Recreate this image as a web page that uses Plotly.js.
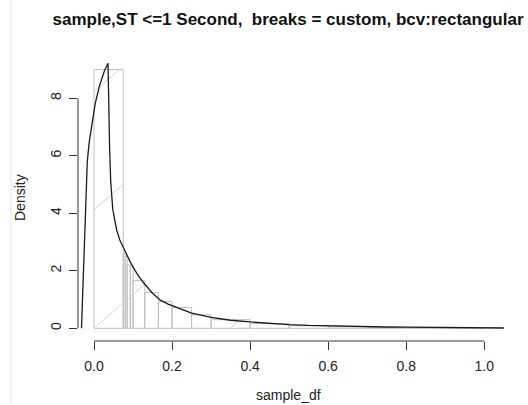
<!DOCTYPE html>
<html><head><meta charset="utf-8">
<script src="https://cdn.plot.ly/plotly-3.0.1.min.js"></script>
<style>html,body{margin:0;padding:0;background:#fff;} #chart{width:528px;height:405px;}</style>
</head><body><div id="chart"></div>
<script>
// ---- data ----
const breaks = [0, 0.075, 0.08, 0.085, 0.093, 0.1, 0.13, 0.165, 0.2, 0.25, 0.3, 0.4, 0.5, 0.6, 0.7, 0.8, 0.9, 1.0];
const densities = [9.0, 2.6, 2.5, 2.2, 2.2, 1.66, 1.25, 0.93, 0.72, 0.47, 0.30, 0.16, 0.09, 0.05, 0.03, 0.02, 0.015];
const curveX = [-0.032, -0.0295, -0.0274, -0.025, -0.0231, -0.020, -0.0172, -0.012, -0.0064, 0.0033, 0.0146, 0.0274, 0.0359,
  0.0367, 0.0377, 0.040, 0.0428, 0.0444, 0.048, 0.053, 0.058, 0.066, 0.075, 0.085, 0.095, 0.11, 0.126, 0.15, 0.17, 0.19, 0.21,
  0.25, 0.3, 0.35, 0.4, 0.45, 0.5, 0.55, 0.6, 0.65, 0.7, 0.75, 0.8, 0.85, 0.9, 0.95, 1.0, 1.05];
const curveY = [0, 1.0, 1.9, 3.0, 4.1, 5.0, 5.8, 6.5, 7.0, 7.83, 8.46, 8.98, 9.22,
  8.3, 7.7, 6.3, 5.1, 4.7, 4.15, 3.77, 3.42, 3.07, 2.8, 2.5, 2.25, 1.9, 1.6, 1.22, 0.98, 0.84, 0.73,
  0.53, 0.38, 0.28, 0.22, 0.17, 0.13, 0.10, 0.08, 0.065, 0.055, 0.045, 0.038, 0.032, 0.027, 0.02, 0.015, 0.01];
const xTicks = [0, 0.2, 0.4, 0.6, 0.8, 1.0];
const xTickLabels = ['0.0', '0.2', '0.4', '0.6', '0.8', '1.0'];
const yTicks = [0, 2, 4, 6, 8];
const yTickLabels = ['0', '2', '4', '6', '8'];
const titleText = 'sample,ST <=1 Second,\u00a0 breaks = custom, bcv:rectangular';
const xLabel = 'sample_df';
const yLabel = 'Density';

// ---- derived geometry ----
const mids = [], widths = [];
for (let i = 0; i < densities.length; i++) {
  mids.push((breaks[i] + breaks[i + 1]) / 2);
  widths.push(breaks[i + 1] - breaks[i]);
}
// hatch lines (R-style shading, anchored at origin)
const hatchSlope = 11.8, hatchSpacing = 0.349;
const hx = [], hy = [];
for (let i = 0; i < densities.length; i++) {
  const a = breaks[i], b = breaks[i + 1], h = densities[i];
  const kmin = Math.floor((a - h / hatchSlope) / hatchSpacing) - 1;
  const kmax = Math.ceil(b / hatchSpacing) + 1;
  for (let k = kmin; k <= kmax; k++) {
    const x0 = k * hatchSpacing;
    const lo = Math.max(a, x0), hi = Math.min(b, x0 + h / hatchSlope);
    if (hi > lo) {
      hx.push(lo, hi, null);
      hy.push(hatchSlope * (lo - x0), hatchSlope * (hi - x0), null);
    }
  }
}

const font = 'Liberation Sans, Arial, sans-serif';
const traces = [
  { type: 'bar', x: mids, y: densities, width: widths,
    marker: { color: 'rgba(255,255,255,0)', line: { color: '#bebebe', width: 1 } },
    hoverinfo: 'skip', showlegend: false },
  { type: 'scatter', mode: 'lines', x: hx, y: hy, line: { color: '#d4d4d4', width: 1 },
    hoverinfo: 'skip', showlegend: false },
  { type: 'scatter', mode: 'lines', x: curveX, y: curveY, line: { color: '#1a1a1a', width: 1.3 },
    hoverinfo: 'skip', showlegend: false }
];

const L = 78, R = 19, T = 54, B = 64;
const layout = {
  width: 528, height: 405,
  margin: { l: L, r: R, t: T, b: B, pad: 0 },
  paper_bgcolor: '#fff', plot_bgcolor: '#fff',
  font: { family: font, size: 14, color: '#222' },
  showlegend: false,
  bargap: 0,
  title: { text: '<b>' + titleText + '</b>', font: { family: font, size: 17, color: '#111' },
    x: 288 / 528, xref: 'container', xanchor: 'center', y: 1 - 19 / 405, yref: 'container', yanchor: 'middle' },
  xaxis: { range: [-0.041, 1.0633], showgrid: false, zeroline: false, showline: false,
    tickmode: 'array', tickvals: xTicks, ticktext: xTickLabels, ticks: 'outside', ticklen: 8, tickwidth: 1,
    tickcolor: '#333', tickfont: { family: font, size: 14, color: '#222' }, ticklabelstandoff: 4, fixedrange: true },
  yaxis: { range: [-0.442, 9.541], showgrid: false, zeroline: false, showline: false,
    tickmode: 'array', tickvals: yTicks, ticktext: yTickLabels, ticks: 'outside', ticklen: 8, tickwidth: 1,
    tickcolor: '#333', tickangle: -90, tickfont: { family: font, size: 14, color: '#222' }, ticklabelstandoff: 2, fixedrange: true },
  shapes: [
    { type: 'line', xref: 'x', yref: 'paper', x0: xTicks[0], x1: xTicks[xTicks.length - 1], y0: 0, y1: 0,
      line: { color: '#333', width: 1 } },
    { type: 'line', xref: 'paper', yref: 'y', x0: 0, x1: 0, y0: yTicks[0], y1: yTicks[yTicks.length - 1],
      line: { color: '#333', width: 1 } },
    { type: 'line', xref: 'paper', yref: 'paper', x0: (11 - L) / 431, x1: (11 - L) / 431, y0: -B / 287, y1: (405 - B) / 287,
      line: { color: '#e4e4e4', width: 1 } }
  ],
  annotations: [
    { text: xLabel, xref: 'paper', yref: 'paper', x: (288 - L) / 431, y: -(405 - 341) / 287,
      xanchor: 'center', yanchor: 'bottom', showarrow: false, font: { family: font, size: 14, color: '#222' } },
    { text: yLabel, xref: 'paper', yref: 'paper', x: (20 - L) / 431, y: (341 - 198) / 287, textangle: -90,
      xanchor: 'center', yanchor: 'middle', showarrow: false, font: { family: font, size: 14, color: '#222' } }
  ]
};
Plotly.newPlot('chart', traces, layout, { displayModeBar: false, staticPlot: true });
</script></body></html>
